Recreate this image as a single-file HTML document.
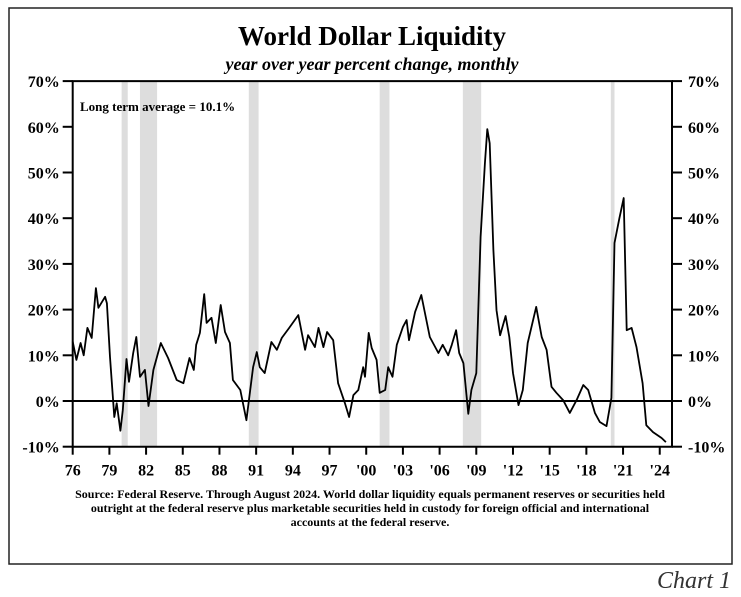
<!DOCTYPE html>
<html><head><meta charset="utf-8"><style>
body{margin:0;background:#fff;}
svg{display:block;font-family:"Liberation Serif",serif;}
</style></head><body>
<svg width="741" height="597" viewBox="0 0 741 597">
<rect x="9" y="8" width="723" height="556" fill="none" stroke="#222" stroke-width="1.5"/>
<text x="372" y="45" text-anchor="middle" font-size="27" font-weight="bold">World Dollar Liquidity</text>
<text x="372" y="70" text-anchor="middle" font-size="18" font-weight="bold" font-style="italic">year over year percent change, monthly</text>
<g id="rec"></g>
<g id="grid"></g>
<path id="line" fill="none" stroke="#000" stroke-width="1.8" stroke-linejoin="round"/>
<text x="80" y="111" font-size="13" font-weight="bold">Long term average = 10.1%</text>
<text x="370" y="498" text-anchor="middle" font-size="12" font-weight="bold"><tspan x="370">Source: Federal Reserve. Through August 2024. World dollar liquidity equals permanent reserves or securities held</tspan><tspan x="370" dy="14">outright at the federal reserve plus marketable securities held in custody for foreign official and international</tspan><tspan x="370" dy="14">accounts at the federal reserve.</tspan></text>
<text x="731" y="588" text-anchor="end" font-size="24" font-style="italic" fill="#333">Chart 1</text>
</svg>
<script>
const years=[1976,1976.3,1976.65,1976.9,1977.2,1977.55,1977.9,1978.1,1978.65,1978.8,1979.05,1979.4,1979.6,1979.9,1980.1,1980.4,1980.6,1980.95,1981.2,1981.5,1981.9,1982.2,1982.6,1983.2,1983.8,1984.5,1985.05,1985.55,1985.9,1986.1,1986.4,1986.75,1986.95,1987.35,1987.7,1988.1,1988.45,1988.85,1989.1,1989.7,1990.2,1990.75,1991.05,1991.3,1991.7,1992.25,1992.7,1993.1,1993.7,1994.45,1995.0,1995.25,1995.8,1996.1,1996.5,1996.8,1997.3,1997.7,1998.25,1998.6,1998.95,1999.35,1999.75,1999.9,2000.2,2000.45,2000.85,2001.1,2001.55,2001.8,2002.15,2002.5,2003.0,2003.3,2003.5,2004.0,2004.5,2005.2,2005.9,2006.25,2006.7,2007.0,2007.35,2007.6,2007.95,2008.35,2008.6,2009.0,2009.35,2009.7,2009.9,2010.1,2010.4,2010.65,2010.95,2011.4,2011.7,2012.0,2012.45,2012.8,2013.2,2013.9,2014.35,2014.75,2015.15,2015.55,2016.1,2016.65,2017.2,2017.75,2018.15,2018.7,2019.1,2019.65,2020.05,2020.3,2020.7,2021.05,2021.3,2021.7,2022.1,2022.6,2022.9,2023.45,2024.15,2024.5];
const values=[13,9,12.7,10,16,13.8,24.7,20.4,22.8,21.4,9.6,-3.5,-0.5,-6.5,-2,9.2,4.2,10.5,14,5.3,6.8,-1.1,6.8,12.7,9.4,4.6,3.9,9.4,6.8,12.3,14.9,23.4,17.1,18.2,12.7,21,15.1,12.7,4.6,2.4,-4.2,7.4,10.7,7.4,6.1,12.9,11.2,13.8,16,18.8,11.2,14.4,11.8,16,11.8,15.1,13.3,3.9,-0.4,-3.5,1.3,2.4,7.4,5.3,14.9,11.6,9,1.8,2.4,7.4,5.3,12.3,16.2,17.7,13.3,19.5,23.2,14,10.5,12.3,10,12.3,15.5,10.5,8.3,-2.8,2.4,6.1,35.9,52,59.5,56.4,33,19.9,14.4,18.6,14,6.1,-0.9,2.4,12.7,20.6,14,11.2,3.1,1.8,0.2,-2.6,0.2,3.5,2.4,-2.6,-4.6,-5.5,0.7,34.6,40,44.4,15.5,16,11.8,3.9,-5.3,-6.8,-8.1,-9];
const recStart=[1980.0,1981.5,1990.4,2001.1,2007.9,2020.0];
const recEnd=[1980.5,1982.9,1991.2,2001.9,2009.4,2020.3];
const yTicks=[70,60,50,40,30,20,10,0,-10];
const xTickYears=[1976,1979,1982,1985,1988,1991,1994,1997,2000,2003,2006,2009,2012,2015,2018,2021,2024];
const xTickLabels=["76","79","82","85","88","91","94","97","'00","'03","'06","'09","'12","'15","'18","'21","'24"];
const NS="http://www.w3.org/2000/svg";
const X0=72.7,X1=672,Y0=401,PX=12.23,PY=4.57;
const sx=y=>X0+(y-1976)*PX, sy=v=>Y0-v*PY;
function mk(t,a,parent){const e=document.createElementNS(NS,t);for(const k in a)e.setAttribute(k,a[k]);parent.appendChild(e);return e;}
const recG=document.getElementById('rec'),gridG=document.getElementById('grid');
const plotTop=sy(70),plotBot=sy(-10);
recStart.forEach((s,i)=>{const r=mk('rect',{x:sx(s),y:plotTop,width:sx(recEnd[i])-sx(s),height:plotBot-plotTop,fill:'#dddddd'},recG);

});
const ax=mk('path',{d:`M${X0},${plotTop}H${X1}V${plotBot}H${X0}Z`,fill:'none',stroke:'#000','stroke-width':2},gridG);


const zl=mk('line',{x1:X0,x2:X1,y1:sy(0),y2:sy(0),stroke:'#000','stroke-width':2},gridG);


yTicks.forEach(v=>{const y=sy(v);
mk('line',{x1:X0-10,x2:X0,y1:y,y2:y,stroke:'#000','stroke-width':2},gridG);
mk('line',{x1:X1,x2:X1+10,y1:y,y2:y,stroke:'#000','stroke-width':2},gridG);
const t=mk('text',{x:X0-13,y:y+6,'text-anchor':'end','font-size':16,'font-weight':'bold'},gridG);t.textContent=v+'%';


const t2=mk('text',{x:X1+16,y:y+6,'font-size':16,'font-weight':'bold'},gridG);t2.textContent=v+'%';

});
xTickYears.forEach((yr,i)=>{const x=sx(yr);
mk('line',{x1:x,x2:x,y1:plotBot,y2:plotBot+8,stroke:'#000','stroke-width':2},gridG);
const t=mk('text',{x:x,y:plotBot+29,'text-anchor':'middle','font-size':16,'font-weight':'bold'},gridG);t.textContent=xTickLabels[i];

});
document.getElementById('line').setAttribute('d',years.map((y,i)=>(i?'L':'M')+sx(y).toFixed(1)+','+sy(values[i]).toFixed(1)).join(''));
</script>
</body></html>
